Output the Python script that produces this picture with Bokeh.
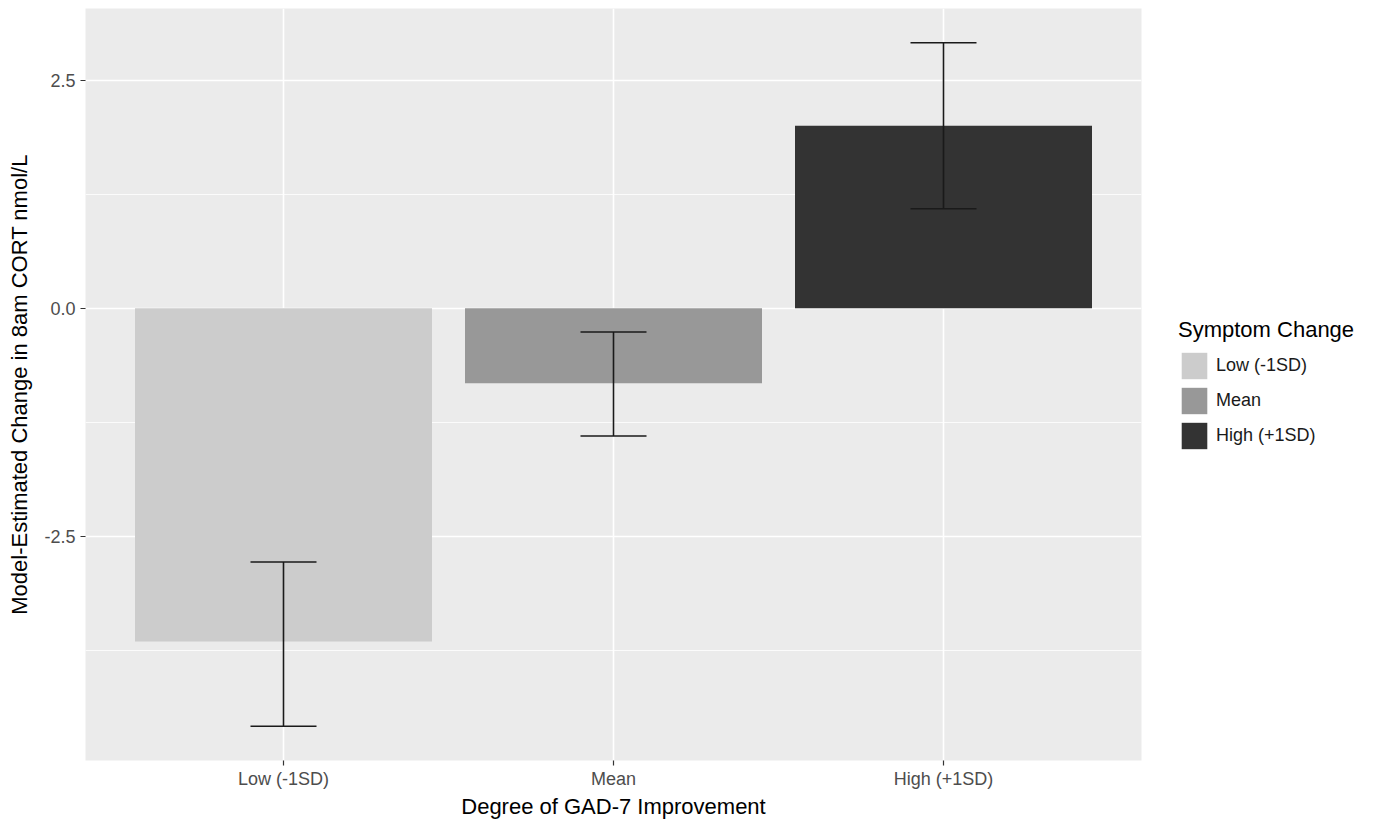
from bokeh.plotting import figure
from bokeh.models import (FactorRange, Range1d, FixedTicker, Whisker, TeeHead,
                          ColumnDataSource, Legend, LegendItem, PrintfTickFormatter)
from bokeh.embed import file_html
from bokeh.resources import INLINE

categories = ["Low (-1SD)", "Mean", "High (+1SD)"]
estimates = [-3.65, -0.82, 2.0]
upper = [-2.78, -0.26, 2.91]
lower = [-4.58, -1.40, 1.09]
fills = ["#CCCCCC", "#989898", "#333333"]
y_ticks = [-2.5, 0.0, 2.5]
y_minor = [-3.75, -1.25, 1.25]

FONT = "Liberation Sans"

src = ColumnDataSource(dict(cat=categories, est=estimates, up=upper, lo=lower, fill=fills))

p = figure(x_range=FactorRange(*categories, range_padding=0.1, range_padding_units="absolute"),
           y_range=Range1d(-4.955, 3.285),
           frame_width=1056, frame_height=752, output_backend="svg", toolbar_location=None,
           min_border_left=85, min_border_right=228, min_border_top=8, min_border_bottom=63)

p.background_fill_color = "#EBEBEB"
p.border_fill_color = "white"
p.outline_line_color = None

bars = p.vbar(x="cat", top="est", width=0.9, source=src, fill_color="fill", line_color=None)

wh = Whisker(source=src, base="cat", upper="up", lower="lo", line_color="#1A1A1A", line_width=1.6,
             level="annotation",
             upper_head=TeeHead(size=66, line_color="#1A1A1A", line_width=1.6),
             lower_head=TeeHead(size=66, line_color="#1A1A1A", line_width=1.6))
p.add_layout(wh)

p.yaxis.ticker = FixedTicker(ticks=y_ticks, minor_ticks=y_minor)
p.yaxis.formatter = PrintfTickFormatter(format="%.1f")
p.xgrid.grid_line_color = "white"
p.xgrid.grid_line_width = 1.6
p.ygrid.grid_line_color = "white"
p.ygrid.grid_line_width = 1.6
p.ygrid.minor_grid_line_color = "white"
p.ygrid.minor_grid_line_width = 0.8

for ax in (p.xaxis[0], p.yaxis[0]):
    ax.axis_line_color = None
    ax.major_tick_line_color = "#333333"
    ax.major_tick_line_width = 1.2
    ax.major_tick_in = 0
    ax.major_tick_out = 5
    ax.minor_tick_line_color = None
    ax.major_label_text_color = "#4D4D4D"
    ax.major_label_text_font = FONT
    ax.major_label_text_font_size = "18px"
    ax.axis_label_text_font = FONT
    ax.axis_label_text_font_size = "22px"
    ax.axis_label_text_font_style = "normal"
    ax.axis_label_text_color = "#000000"

p.xaxis.axis_label = "Degree of GAD-7 Improvement"
p.yaxis.axis_label = "Model-Estimated Change in 8am CORT nmol/L"
p.yaxis.major_label_standoff = 5
p.xaxis.major_label_standoff = 3
p.xaxis.axis_label_standoff = 2
p.yaxis.axis_label_standoff = 9

items = [LegendItem(label=c, renderers=[bars], index=i) for i, c in enumerate(categories)]
legend = Legend(items=items, title="Symptom Change", location=(37, 308),
                glyph_width=32, glyph_height=33, spacing=2, padding=0, margin=0,
                label_text_font=FONT, label_text_font_size="18px", label_standoff=6,
                label_text_color="#1A1A1A", label_height=33,
                title_text_font=FONT, title_text_font_size="22px", title_text_font_style="normal",
                title_text_color="#000000",
                title_standoff=6, background_fill_alpha=0, border_line_color=None)
p.add_layout(legend, "right")

open("out.html", "w").write(file_html(p, INLINE))
